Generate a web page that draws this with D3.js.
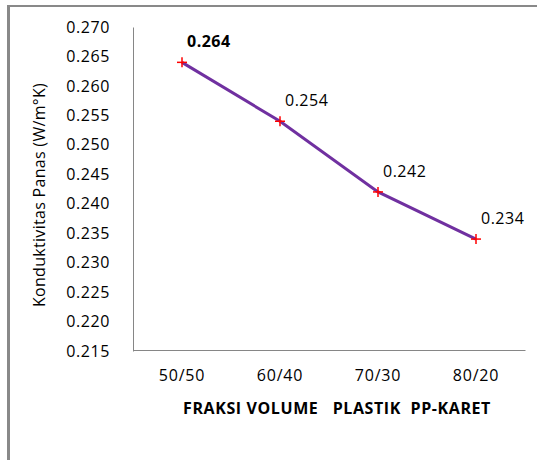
<!DOCTYPE html>
<html>
<head>
<meta charset="utf-8">
<script src="https://cdn.jsdelivr.net/npm/d3@7"></script>
<style>
  html, body { margin: 0; padding: 0; background: #fff; }
  svg { display: block; }
  text { font-family: "Open Sans", "Liberation Sans", sans-serif; fill: #000; }
</style>
</head>
<body>
<svg id="chart" width="537" height="460"></svg>
<script>
// Thermal conductivity by PP / rubber volume fraction
const categories = ["50/50", "60/40", "70/30", "80/20"];
const conductivity = [0.264, 0.254, 0.242, 0.234];
const valueLabels = ["0.264", "0.254", "0.242", "0.234"];
const yTicks = [0.215, 0.220, 0.225, 0.230, 0.235, 0.240, 0.245, 0.250, 0.255, 0.260, 0.265, 0.270];

const svg = d3.select("#chart");

// outer frame (top and left edges)
svg.append("line").attr("x1", 8).attr("x2", 537).attr("y1", 6).attr("y2", 6)
  .attr("stroke", "#898989").attr("stroke-width", 2);
svg.append("line").attr("x1", 8.5).attr("x2", 8.5).attr("y1", 5).attr("y2", 460)
  .attr("stroke", "#898989").attr("stroke-width", 3);

const plot = { left: 133, right: 525, top: 27, bottom: 351 };

const x = d3.scaleBand().domain(categories).range([plot.left, plot.right]).padding(0);
const y = d3.scaleLinear().domain([0.215, 0.270]).range([plot.bottom, plot.top]);

// y axis: line plus labels
const yAxis = svg.append("g").attr("transform", `translate(${plot.left},0)`)
  .call(d3.axisLeft(y).tickValues(yTicks).tickFormat(d3.format(".3f")).tickSize(0).tickPadding(23));
yAxis.select(".domain").attr("stroke", "#868686").attr("stroke-width", 1);
yAxis.selectAll("text").style("font-size", "16px").attr("letter-spacing", "0.6px")
  .attr("font-family", "Open Sans, Liberation Sans, sans-serif");

// x axis
const xAxis = svg.append("g").attr("transform", `translate(0,${plot.bottom - 1})`)
  .call(d3.axisBottom(x).tickSize(0).tickPadding(20));
xAxis.select(".domain").attr("stroke", "#868686").attr("stroke-width", 1);
xAxis.selectAll("text").style("font-size", "16px").attr("letter-spacing", "0.8px")
  .attr("font-family", "Open Sans, Liberation Sans, sans-serif");

// axis titles
svg.append("text")
  .attr("transform", `translate(45,195) rotate(-90)`)
  .attr("text-anchor", "middle")
  .style("font-size", "16px")
  .attr("letter-spacing", "0.3px")
  .text("Konduktivitas Panas (W/m°K)");

svg.append("text")
  .attr("x", 337).attr("y", 414)
  .attr("text-anchor", "middle")
  .style("font-size", "16px").style("font-weight", "bold")
  .attr("letter-spacing", "0.6px")
  .attr("xml:space", "preserve")
  .text("FRAKSI VOLUME   PLASTIK  PP-KARET");

const cx = d => x(d) + x.bandwidth() / 2;
const pts = categories.map((c, i) => ({ c, v: conductivity[i], label: valueLabels[i] }));

// series line
svg.append("path")
  .datum(pts)
  .attr("fill", "none")
  .attr("stroke", "#7030A0")
  .attr("stroke-width", 3)
  .attr("d", d3.line().x(d => cx(d.c)).y(d => y(d.v)));

// plus markers
const m = svg.append("g").selectAll("g").data(pts).join("g")
  .attr("transform", d => `translate(${cx(d.c)},${y(d.v)})`);
m.append("line").attr("x1", -5).attr("x2", 5).attr("stroke", "#ff0000").attr("stroke-width", 1.5);
m.append("line").attr("y1", -5).attr("y2", 5).attr("stroke", "#ff0000").attr("stroke-width", 1.5);

// value labels
svg.append("g").selectAll("text").data(pts).join("text")
  .attr("x", d => cx(d.c) + 5)
  .attr("y", d => y(d.v) - 15)
  .style("font-size", "16px")
  .style("font-weight", (d, i) => i === 0 ? "bold" : "normal")
  .attr("letter-spacing", "0.5px")
  .text(d => d.label);
</script>
</body>
</html>
